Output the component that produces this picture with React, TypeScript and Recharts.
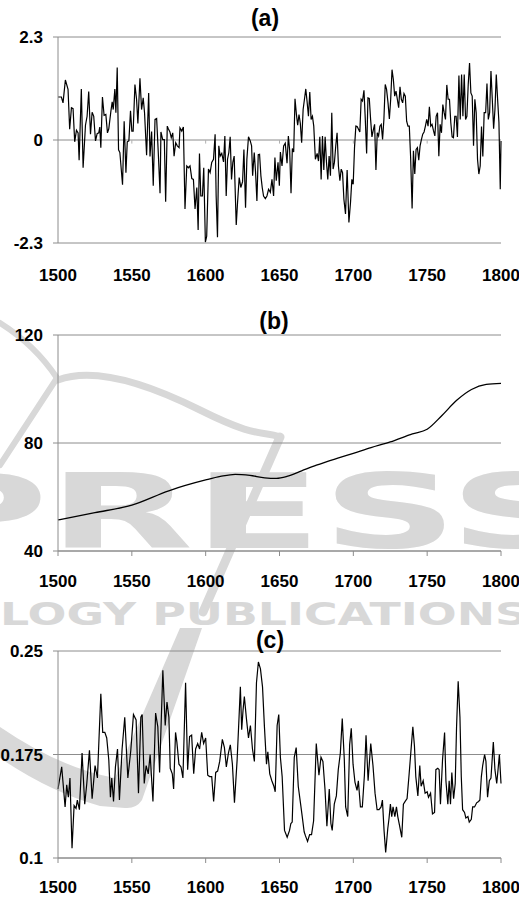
import { LineChart, Line, XAxis, YAxis, CartesianGrid, ReferenceLine } from "recharts";

const yearTicks = [1500, 1550, 1600, 1650, 1700, 1750, 1800];

// (a) annual anomaly as [year, value]
const ticksA = [-2.3, 0, 2.3];
const pointsA: [number, number][] = [
  [1500.0, 0.96], [1502.3, 0.96], [1503.4, 0.83], [1505.0, 1.34], [1506.8, 1.13], [1507.9, 0.24],
  [1509.1, 0.72], [1510.2, 0.7], [1511.3, -0.04], [1512.5, 0.22], [1513.6, 0.16], [1514.3, -0.45],
  [1515.8, 1.14], [1517.0, -0.62], [1518.6, 0.33], [1519.7, 0.53], [1520.8, 1.08], [1522.0, 0.13],
  [1523.1, 0.62], [1524.2, 0.53], [1525.4, -0.02], [1526.5, 0.14], [1527.6, 0.16], [1528.3, 0.29],
  [1529.0, -0.17], [1530.1, 0.96], [1531.2, 0.55], [1532.4, 0.57], [1533.5, 0.16], [1534.4, 0.25],
  [1535.8, 0.64], [1536.7, 0.85], [1537.4, 0.68], [1538.5, 1.14], [1539.2, 0.61], [1540.1, 1.62],
  [1541.0, -0.22], [1541.9, -0.28], [1543.7, -1.0], [1544.8, 0.42], [1546.0, -0.73], [1546.9, -0.04],
  [1548.0, -0.02], [1549.1, 0.65], [1550.0, 0.2], [1550.9, 0.2], [1552.1, 1.24], [1553.2, 0.91],
  [1554.1, 0.37], [1555.5, 1.38], [1556.6, 0.68], [1557.7, 0.94], [1558.6, 0.61], [1560.0, -0.34],
  [1561.4, 1.05], [1562.3, -0.37], [1563.4, 0.19], [1564.5, -1.02], [1565.7, 0.46], [1566.8, 0.48],
  [1567.9, -0.28], [1569.1, -1.19], [1569.7, 0.18], [1570.9, 0.01], [1572.0, 0.01], [1572.9, -1.38],
  [1574.0, 0.31], [1574.7, 0.25], [1575.8, 0.18], [1576.7, 0.05], [1577.7, 0.16], [1578.6, -0.36],
  [1579.7, -0.06], [1580.8, -0.13], [1582.0, -0.17], [1582.6, 0.27], [1583.8, 0.2], [1584.9, 0.29],
  [1586.0, -1.54], [1587.2, -0.58], [1588.3, -0.62], [1589.4, -0.58], [1590.6, -0.86], [1591.7, -0.88],
  [1592.8, -1.54], [1594.0, -1.06], [1594.9, -2.01], [1595.8, -0.3], [1596.7, -1.25], [1597.8, -1.25],
  [1598.7, -0.62], [1599.8, -2.28], [1600.7, -2.15], [1601.9, -0.65], [1603.0, -0.73], [1604.1, -0.5],
  [1605.3, -0.43], [1606.4, 0.13], [1607.1, -1.25], [1608.0, -2.17], [1608.9, -0.13], [1609.8, -0.36],
  [1610.9, -0.3], [1612.1, -0.49], [1613.0, 0.09], [1613.9, -1.25], [1614.8, -0.43], [1615.7, -0.28],
  [1616.6, 0.07], [1617.5, -0.88], [1618.4, -0.5], [1619.3, -0.36], [1620.7, -1.9], [1621.6, -1.39],
  [1622.7, -0.84], [1623.8, -1.06], [1625.0, -0.93], [1625.9, -0.21], [1627.0, -1.51], [1627.9, -0.43],
  [1629.0, 0.07], [1630.2, -0.02], [1631.1, -0.13], [1631.8, -0.8], [1632.9, -0.28], [1633.8, -0.73],
  [1634.7, -1.36], [1635.6, -0.33], [1636.5, -0.32], [1637.4, -0.8], [1638.3, -1.06], [1639.2, -1.25],
  [1640.4, -1.31], [1641.5, -1.25], [1642.6, -1.1], [1643.8, -1.17], [1644.9, -0.88], [1646.0, -1.25],
  [1646.9, -0.39], [1647.8, -0.91], [1649.0, -0.5], [1649.9, -1.02], [1650.6, -0.27], [1651.7, -0.58],
  [1652.8, -0.13], [1653.9, -0.07], [1655.1, -0.52], [1656.0, 0.09], [1656.9, -0.24], [1657.8, -1.19],
  [1658.7, -0.19], [1659.6, -0.27], [1660.5, 0.92], [1661.4, 0.59], [1662.3, 0.33], [1663.2, 0.57],
  [1664.1, 0.37], [1665.0, -0.06], [1666.0, 0.68], [1666.9, 0.91], [1667.8, 1.14], [1668.7, 0.85],
  [1669.6, 0.53], [1670.5, 1.07], [1671.4, 0.46], [1672.3, 0.53], [1673.2, 0.31], [1674.3, -0.43],
  [1675.5, -0.3], [1676.4, -0.47], [1677.3, 0.07], [1678.2, -0.88], [1679.1, 0.09], [1680.0, -0.67],
  [1680.9, 0.07], [1681.8, -0.49], [1682.7, -0.88], [1683.6, -0.36], [1684.5, -0.8], [1685.4, 0.61],
  [1686.3, -0.65], [1687.2, -0.5], [1688.1, -0.13], [1689.0, 0.16], [1689.9, -0.58], [1690.9, -0.91],
  [1691.8, -0.65], [1692.7, -0.73], [1693.6, -1.32], [1694.7, -1.65], [1695.8, -0.67], [1697.0, -1.84],
  [1698.1, -1.39], [1699.0, -0.88], [1699.9, -0.99], [1700.8, -0.17], [1701.7, 0.31], [1702.6, 0.3],
  [1703.5, 0.24], [1704.4, 0.18], [1705.3, 0.91], [1706.2, 0.87], [1707.2, 1.11], [1708.1, 0.46],
  [1709.0, -0.3], [1709.9, 0.94], [1710.8, 0.93], [1711.7, 0.46], [1712.6, 0.07], [1713.5, 0.22],
  [1714.4, 0.35], [1715.3, -0.67], [1716.2, 0.16], [1717.1, 0.09], [1718.0, 0.31], [1718.9, 0.35],
  [1719.8, 0.01], [1720.7, 0.46], [1721.6, 1.24], [1722.5, 1.13], [1723.5, 0.83], [1724.4, 0.47],
  [1725.3, 0.91], [1726.2, 1.57], [1727.1, 1.35], [1728.0, 0.98], [1728.9, 1.09], [1729.8, 0.91],
  [1730.7, 0.72], [1731.6, 1.19], [1732.5, 0.91], [1733.4, 0.83], [1734.3, 1.04], [1735.2, 0.98],
  [1736.1, 0.42], [1737.0, 0.31], [1737.9, 0.31], [1738.8, -0.39], [1739.8, -1.53], [1740.7, -0.24],
  [1741.6, -0.76], [1742.5, -0.21], [1743.4, -0.17], [1744.3, -0.45], [1745.2, -0.13], [1746.1, 0.01],
  [1747.0, 0.13], [1747.9, 0.18], [1748.8, 0.31], [1749.7, 0.46], [1750.6, 0.31], [1751.5, 0.74],
  [1752.4, 0.31], [1753.3, 0.35], [1754.2, 0.22], [1755.2, 0.09], [1756.1, 0.53], [1757.0, 0.61],
  [1757.9, -0.36], [1758.8, 0.35], [1759.7, 0.16], [1760.6, 0.79], [1761.5, 0.61], [1762.4, 0.46],
  [1763.3, 1.23], [1764.2, 0.91], [1765.1, 0.91], [1766.0, 0.39], [1766.9, 0.07], [1767.8, 0.05],
  [1768.7, 0.53], [1769.6, 0.53], [1770.5, 0.07], [1771.5, 1.44], [1772.4, 0.46], [1773.3, 1.46],
  [1774.2, 0.53], [1775.1, 1.46], [1776.0, 0.46], [1776.9, 0.53], [1777.8, 1.24], [1778.7, 1.72],
  [1779.6, 1.05], [1780.5, 0.98], [1781.4, -0.13], [1782.3, 0.91], [1783.2, 0.61], [1784.1, -0.43],
  [1785.0, -0.76], [1785.9, -0.58], [1786.8, 0.3], [1787.7, -0.37], [1788.6, 0.61], [1789.6, 0.61],
  [1790.5, 1.26], [1791.4, 0.46], [1792.3, 0.61], [1793.2, 1.54], [1794.1, 0.91], [1795.0, 0.25],
  [1795.9, 0.68], [1796.8, 1.46], [1797.7, 0.91], [1798.6, 0.39], [1799.5, -1.1], [1800.0, -0.02],
];

// (b) smooth trend
const ticksB = [40, 80, 120];
const pointsB: [number, number][] = [
  [1500, 51.5], [1525, 54.2], [1550, 57.0], [1575, 62.3], [1600, 66.3], [1610, 67.6],
  [1620, 68.4], [1630, 68.0], [1640, 67.1], [1648, 66.9], [1655, 67.6], [1665, 69.7],
  [1675, 71.8], [1690, 74.5], [1700, 76.2], [1712, 78.3], [1725, 80.4], [1740, 83.4],
  [1750, 85.1], [1760, 90.2], [1770, 95.8], [1780, 99.8], [1790, 101.7], [1800, 102.1],
];

// (c)
const ticksC = [0.1, 0.175, 0.25];
const pointsC: [number, number][] = [
  [1500.0, 0.15], [1502.5, 0.166], [1504.8, 0.137], [1505.9, 0.153], [1507.0, 0.144], [1508.1, 0.158],
  [1509.5, 0.107], [1510.9, 0.138], [1512.2, 0.136], [1513.1, 0.142], [1514.5, 0.135], [1516.3, 0.176],
  [1518.1, 0.139], [1519.5, 0.154], [1521.3, 0.178], [1523.1, 0.143], [1525.1, 0.167], [1526.7, 0.158],
  [1529.0, 0.219], [1530.3, 0.191], [1531.7, 0.191], [1533.0, 0.187], [1534.4, 0.171], [1535.5, 0.144],
  [1536.4, 0.158], [1537.6, 0.141], [1538.9, 0.166], [1540.3, 0.179], [1541.6, 0.142], [1543.4, 0.179],
  [1545.2, 0.202], [1547.3, 0.158], [1549.3, 0.178], [1551.1, 0.204], [1552.9, 0.2], [1554.5, 0.147],
  [1556.1, 0.202], [1557.0, 0.204], [1558.4, 0.154], [1559.7, 0.167], [1561.1, 0.161], [1562.4, 0.175],
  [1564.3, 0.141], [1566.1, 0.205], [1567.6, 0.195], [1568.8, 0.162], [1571.0, 0.236], [1572.6, 0.196],
  [1573.8, 0.213], [1575.1, 0.202], [1576.0, 0.165], [1577.4, 0.161], [1578.3, 0.15], [1579.6, 0.191],
  [1580.5, 0.184], [1581.9, 0.168], [1583.3, 0.166], [1584.6, 0.158], [1586.4, 0.227], [1587.8, 0.164],
  [1589.1, 0.188], [1590.5, 0.189], [1591.9, 0.161], [1593.2, 0.179], [1594.6, 0.183], [1595.9, 0.179],
  [1597.3, 0.191], [1598.6, 0.183], [1600.0, 0.187], [1601.4, 0.16], [1602.7, 0.159], [1604.1, 0.159],
  [1605.4, 0.141], [1606.8, 0.162], [1608.1, 0.163], [1609.5, 0.17], [1611.3, 0.186], [1612.7, 0.18],
  [1614.0, 0.166], [1615.4, 0.176], [1616.7, 0.182], [1618.1, 0.168], [1619.5, 0.14], [1621.3, 0.171],
  [1622.6, 0.202], [1623.5, 0.224], [1624.4, 0.193], [1625.3, 0.207], [1626.2, 0.217], [1627.6, 0.201],
  [1629.0, 0.187], [1630.3, 0.196], [1631.7, 0.179], [1633.0, 0.17], [1634.4, 0.227], [1635.7, 0.242],
  [1637.1, 0.237], [1638.5, 0.224], [1639.8, 0.195], [1641.2, 0.168], [1642.1, 0.177], [1643.4, 0.161],
  [1644.8, 0.156], [1646.2, 0.152], [1647.1, 0.148], [1648.4, 0.196], [1649.5, 0.204], [1650.6, 0.173],
  [1651.8, 0.159], [1653.4, 0.12], [1655.2, 0.115], [1656.8, 0.12], [1657.7, 0.125], [1658.6, 0.126],
  [1660.0, 0.173], [1661.3, 0.18], [1662.7, 0.152], [1664.3, 0.139], [1665.4, 0.13], [1666.7, 0.119],
  [1667.6, 0.116], [1669.0, 0.112], [1670.4, 0.117], [1671.7, 0.117], [1673.1, 0.127], [1674.9, 0.183],
  [1676.7, 0.16], [1678.1, 0.173], [1679.4, 0.17], [1680.8, 0.15], [1682.1, 0.123], [1683.7, 0.15],
  [1684.8, 0.125], [1685.7, 0.12], [1687.1, 0.139], [1688.5, 0.145], [1689.8, 0.164], [1691.2, 0.176],
  [1692.5, 0.201], [1693.9, 0.171], [1694.8, 0.137], [1696.2, 0.13], [1697.5, 0.182], [1698.6, 0.194],
  [1699.8, 0.168], [1701.1, 0.155], [1702.5, 0.149], [1703.4, 0.156], [1704.8, 0.137], [1706.1, 0.137],
  [1707.5, 0.16], [1708.6, 0.189], [1710.0, 0.156], [1711.8, 0.183], [1713.3, 0.167], [1714.7, 0.147],
  [1716.1, 0.135], [1717.4, 0.135], [1718.8, 0.137], [1719.7, 0.142], [1720.8, 0.12], [1721.9, 0.104],
  [1723.3, 0.121], [1724.2, 0.129], [1725.1, 0.139], [1726.0, 0.13], [1726.9, 0.137], [1728.1, 0.13],
  [1729.2, 0.137], [1730.1, 0.13], [1731.4, 0.123], [1732.8, 0.115], [1733.9, 0.139], [1735.1, 0.141],
  [1736.4, 0.143], [1737.8, 0.161], [1738.9, 0.176], [1740.3, 0.195], [1741.4, 0.181], [1742.3, 0.159],
  [1743.7, 0.145], [1745.0, 0.167], [1745.9, 0.152], [1747.3, 0.156], [1748.6, 0.147], [1750.0, 0.148],
  [1750.9, 0.144], [1752.3, 0.147], [1753.6, 0.132], [1755.0, 0.133], [1755.9, 0.164], [1757.2, 0.165],
  [1758.1, 0.164], [1759.0, 0.139], [1760.4, 0.171], [1761.8, 0.191], [1762.7, 0.156], [1764.0, 0.139],
  [1764.9, 0.156], [1765.8, 0.139], [1766.7, 0.162], [1767.9, 0.143], [1769.0, 0.154], [1769.9, 0.195],
  [1771.0, 0.228], [1772.2, 0.202], [1773.1, 0.159], [1774.0, 0.135], [1775.3, 0.133], [1776.2, 0.129],
  [1777.6, 0.13], [1778.5, 0.126], [1779.9, 0.128], [1780.8, 0.137], [1782.1, 0.137], [1783.5, 0.14],
  [1784.8, 0.141], [1785.7, 0.142], [1786.7, 0.159], [1787.6, 0.167], [1788.9, 0.175], [1789.8, 0.17],
  [1790.9, 0.144], [1792.1, 0.156], [1793.2, 0.158], [1794.8, 0.184], [1795.9, 0.164], [1797.1, 0.154],
  [1798.0, 0.164], [1798.9, 0.175], [1800.0, 0.154],
];

const toRows = (pts: [number, number][]) => pts.map(([year, value]) => ({ year, value }));

const GRAY = "#8c8c8c";
const tickFont = { fill: "#000", fontSize: 17, fontWeight: "bold", fontFamily: "'Liberation Sans', Arial, sans-serif" };

type PanelProps = {
  title: string;
  titleX: number;
  titleTop: number;
  top: number;
  marginTop: number;
  plotHeight: number;
  axisHeight: number;
  points: [number, number][];
  domain: [number, number];
  yTicks: number[];
  smooth?: boolean;
  zeroAxis?: boolean;
  labelGap: number;
};

const Panel = (p: PanelProps) => {
  const height = p.marginTop + p.plotHeight + p.axisHeight;
  return (
    <>
      <div style={{ position: "absolute", left: 0, top: p.top }}>
        <LineChart
          width={519}
          height={height}
          data={toRows(p.points)}
          margin={{ top: p.marginTop, right: 18, bottom: 0, left: 0 }}
        >
          <CartesianGrid vertical={false} stroke={GRAY} />
          <XAxis
            dataKey="year"
            type="number"
            domain={[1500, 1800]}
            ticks={yearTicks}
            interval={0}
            height={p.axisHeight}
            axisLine={p.zeroAxis ? false : { stroke: GRAY }}
            tickLine={p.zeroAxis ? false : { stroke: GRAY }}
            tickSize={p.zeroAxis ? 0 : 5}
            tickMargin={p.labelGap}
            tick={tickFont}
          />
          <YAxis
            type="number"
            domain={p.domain}
            ticks={p.yTicks}
            interval={0}
            width={58}
            axisLine={{ stroke: GRAY }}
            tickLine={{ stroke: GRAY }}
            tickSize={5}
            tickMargin={10}
            tick={tickFont}
          />
          {p.zeroAxis &&
            yearTicks.slice(1, -1).map((t) => (
              <ReferenceLine
                key={t}
                segment={[{ x: t, y: 0 }, { x: t, y: -0.08 }]}
                stroke="#b0b0b0"
              />
            ))}
          <Line
            dataKey="value"
            type={p.smooth ? "monotone" : "linear"}
            stroke="#000"
            strokeWidth={p.smooth ? 1.3 : 1.2}
            dot={false}
            isAnimationActive={false}
          />
        </LineChart>
      </div>
      <div
        style={{
          position: "absolute",
          left: p.titleX - 50,
          top: p.titleTop,
          width: 100,
          textAlign: "center",
          font: "bold 23px/23px 'Liberation Sans', Arial, sans-serif",
          color: "#000",
        }}
      >
        {p.title}
      </div>
    </>
  );
};

// faint publisher watermark behind the figure
const WM = "#d8d8d8";
const Watermark = () => (
  <svg width={519} height={898} style={{ position: "absolute", left: 0, top: 0 }}>
    <g fill="none" stroke={WM} strokeLinecap="round">
      <path d="M0,323 Q35,345 57,378" strokeWidth={6} />
      <path d="M0,465 L57,378" strokeWidth={6} />
      <path d="M58,380 C90,368 140,380 200,410 S262,430 280,437" strokeWidth={7} />
      <path d="M280,437 L203,612" strokeWidth={9} />
    </g>
    <path
      d="M180,628 L202,628 L142,800 Q136,809 125,808 L100,806 Q50,792 0,758 L0,727 Q60,768 115,778 Z"
      fill={WM}
    />
    <text
      x={-90}
      y={548}
      fontSize={104}
      fontWeight="bold"
      fontFamily="'DejaVu Sans', sans-serif"
      textLength={675}
      lengthAdjust="spacingAndGlyphs"
      fill={WM}
    >
      PRESS
    </text>
    <text
      x={0}
      y={625}
      fontSize={32}
      fontWeight="bold"
      fontFamily="'DejaVu Sans', sans-serif"
      textLength={528}
      lengthAdjust="spacingAndGlyphs"
      fill={WM}
    >
      LOGY PUBLICATIONS
    </text>
  </svg>
);

export default function App() {
  return (
    <div style={{ position: "absolute", left: 0, top: 0, width: 519, height: 898, overflow: "hidden", background: "#fff" }}>
      <Watermark />
      <Panel
        title="(a)"
        titleX={265}
        titleTop={7}
        top={0}
        marginTop={37}
        plotHeight={206}
        axisHeight={50}
        points={pointsA}
        domain={[-2.3, 2.3]}
        yTicks={ticksA}
        zeroAxis
        labelGap={26}
      />
      <Panel
        title="(b)"
        titleX={274}
        titleTop={310}
        top={295}
        marginTop={40}
        plotHeight={216}
        axisHeight={45}
        points={pointsB}
        domain={[40, 120]}
        yTicks={ticksB}
        smooth
        labelGap={19}
      />
      <Panel
        title="(c)"
        titleX={270}
        titleTop={629}
        top={600}
        marginTop={51}
        plotHeight={207}
        axisHeight={40}
        points={pointsC}
        domain={[0.1, 0.25]}
        yTicks={ticksC}
        labelGap={18}
      />
    </div>
  );
}
